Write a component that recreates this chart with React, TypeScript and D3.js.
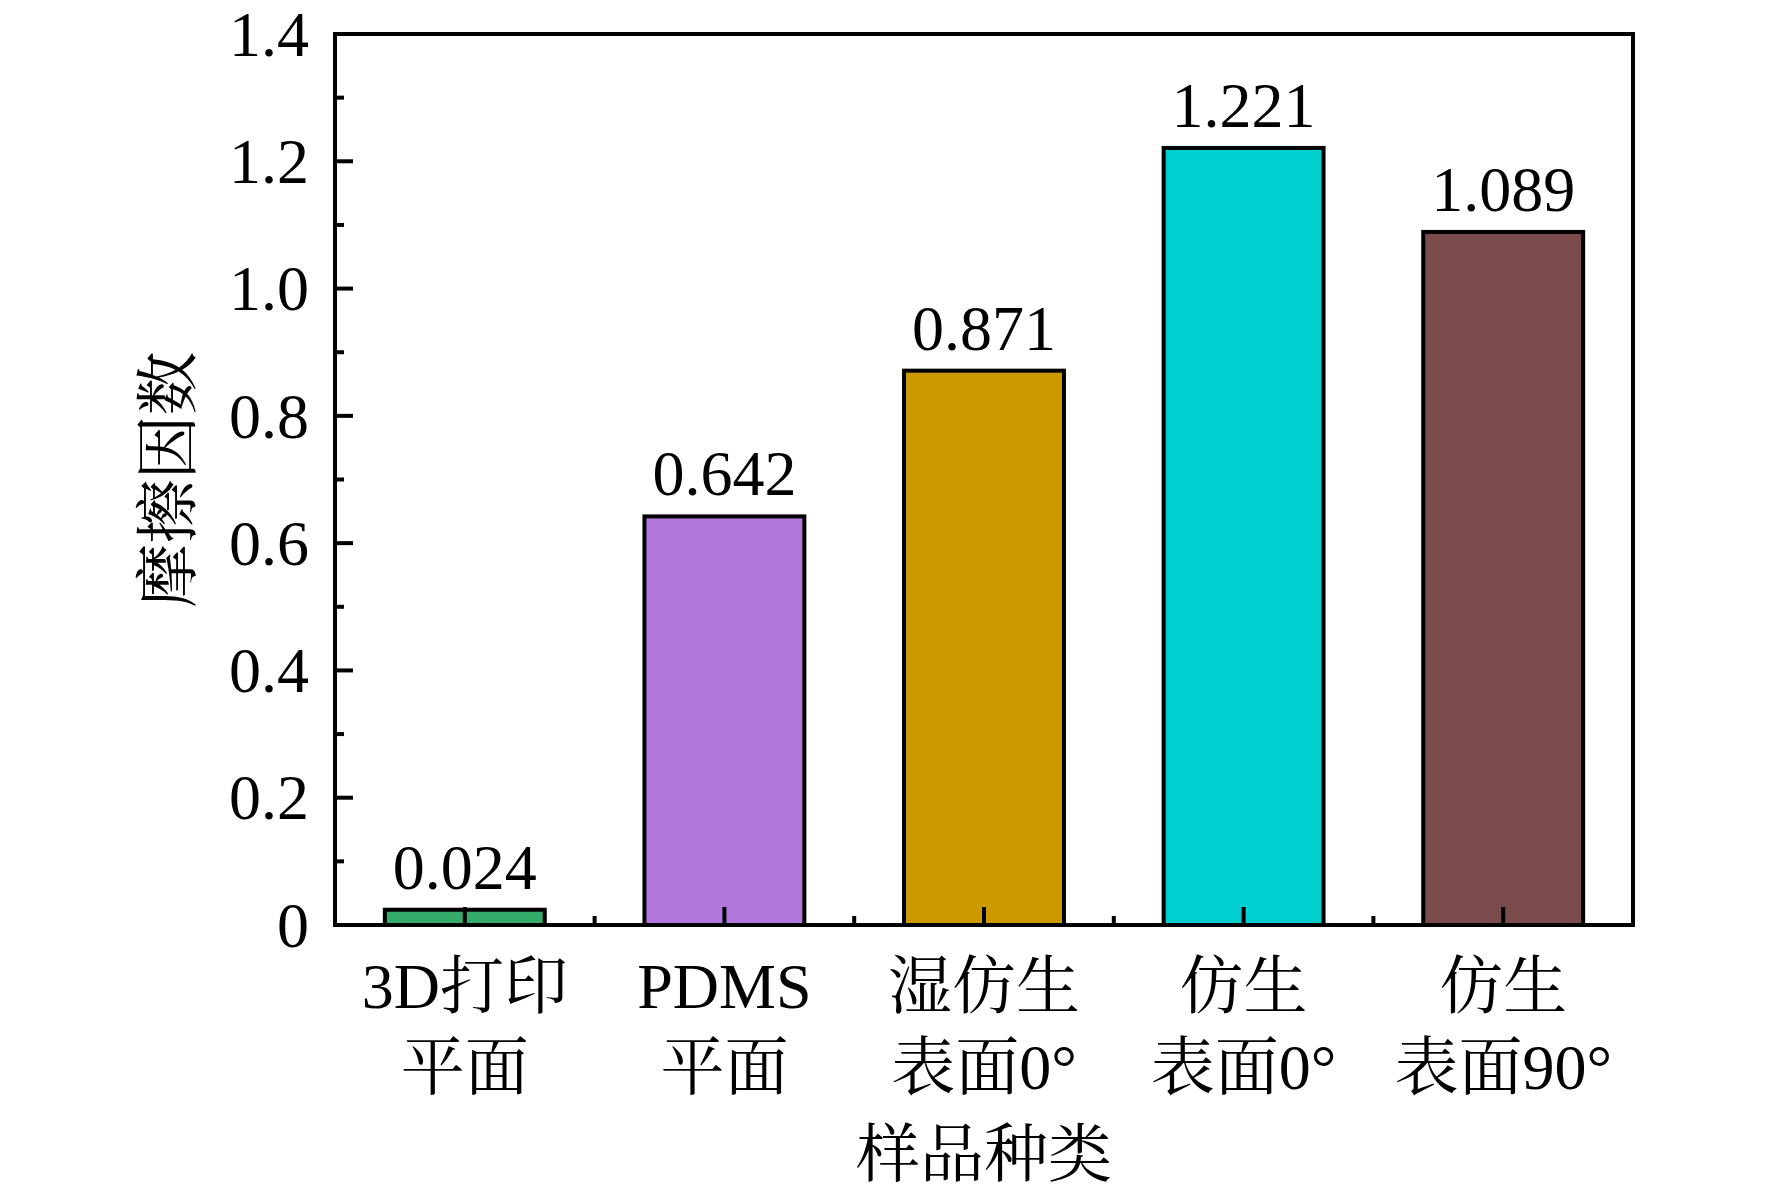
import { useEffect, useRef } from "react";
import * as d3 from "d3";

// sample categories (two lines each) and measured friction coefficients
const categories = ["3D打印\n平面", "PDMS\n平面", "湿仿生\n表面0°", "仿生\n表面0°", "仿生\n表面90°"];
const frictionValues = [0.024, 0.642, 0.871, 1.221, 1.089];
const valueLabels = ["0.024", "0.642", "0.871", "1.221", "1.089"];
const barColors = ["#34ab69", "#b376dc", "#cc9a00", "#00cfcf", "#7a4b4b"];
const yTicks = [0, 0.2, 0.4, 0.6, 0.8, 1.0, 1.2, 1.4];
const yTickLabels = ["0", "0.2", "0.4", "0.6", "0.8", "1.0", "1.2", "1.4"];
const yMinorTicks = [0.1, 0.3, 0.5, 0.7, 0.9, 1.1, 1.3];

const xTitle = "样品种类";
const yTitle = "摩擦因数";

const FONT = '"Liberation Serif", "Times New Roman", "Noto Serif CJK SC", "Noto Sans CJK SC", serif';

export default function App() {
  const svgRef = useRef<SVGSVGElement>(null);
  const width = 1772;
  const height = 1195;

  useEffect(() => {
    if (!svgRef.current) return;
    const svg = d3.select(svgRef.current);
    svg.selectAll("*").remove();

    const margin = { top: 34, right: 139, bottom: 270, left: 335 };
    const innerWidth = width - margin.left - margin.right;
    const innerHeight = height - margin.top - margin.bottom;

    const g = svg
      .append("g")
      .attr("transform", `translate(${margin.left},${margin.top})`);

    const x = d3
      .scaleBand()
      .domain(categories)
      .range([0, innerWidth])
      .paddingInner(0.384)
      .paddingOuter(0.192);

    const y = d3.scaleLinear().domain([0, 1.4]).range([innerHeight, 0]);

    const step = x.step();

    // bars
    g.selectAll(".bar")
      .data(frictionValues)
      .enter()
      .append("rect")
      .attr("class", "bar")
      .attr("x", (_, i) => x(categories[i]) ?? 0)
      .attr("width", x.bandwidth())
      .attr("y", (d) => y(d))
      .attr("height", (d) => innerHeight - y(d))
      .attr("fill", (_, i) => barColors[i])
      .attr("stroke", "#000")
      .attr("stroke-width", 4);

    // value labels
    g.selectAll(".val")
      .data(frictionValues)
      .enter()
      .append("text")
      .attr("x", (_, i) => (x(categories[i]) ?? 0) + x.bandwidth() / 2)
      .attr("y", (d) => y(d) - 21)
      .attr("text-anchor", "middle")
      .attr("font-family", FONT)
      .attr("font-size", 64)
      .attr("fill", "#000")
      .text((_, i) => valueLabels[i]);

    // y axis ticks (inward)
    g.selectAll(".ymaj")
      .data(yTicks)
      .enter()
      .append("line")
      .attr("x1", 0)
      .attr("x2", 18)
      .attr("y1", (d) => y(d))
      .attr("y2", (d) => y(d))
      .attr("stroke", "#000")
      .attr("stroke-width", 4);

    g.selectAll(".ymin")
      .data(yMinorTicks)
      .enter()
      .append("line")
      .attr("x1", 0)
      .attr("x2", 9)
      .attr("y1", (d) => y(d))
      .attr("y2", (d) => y(d))
      .attr("stroke", "#000")
      .attr("stroke-width", 4);

    g.selectAll(".ylab")
      .data(yTicks)
      .enter()
      .append("text")
      .attr("x", -26)
      .attr("y", (d) => y(d))
      .attr("dy", "0.34em")
      .attr("text-anchor", "end")
      .attr("font-family", FONT)
      .attr("font-size", 64)
      .attr("fill", "#000")
      .text((_, i) => yTickLabels[i]);

    // x axis ticks: major at centers, minor at band boundaries
    g.selectAll(".xmaj")
      .data(categories)
      .enter()
      .append("line")
      .attr("x1", (d) => (x(d) ?? 0) + x.bandwidth() / 2)
      .attr("x2", (d) => (x(d) ?? 0) + x.bandwidth() / 2)
      .attr("y1", innerHeight)
      .attr("y2", innerHeight - 18)
      .attr("stroke", "#000")
      .attr("stroke-width", 4);

    g.selectAll(".xmin")
      .data(categories.slice(1))
      .enter()
      .append("line")
      .attr("x1", (d) => (x(d) ?? 0) + x.bandwidth() / 2 - step / 2)
      .attr("x2", (d) => (x(d) ?? 0) + x.bandwidth() / 2 - step / 2)
      .attr("y1", innerHeight)
      .attr("y2", innerHeight - 9)
      .attr("stroke", "#000")
      .attr("stroke-width", 4);

    // category labels, two lines each
    const xl = g
      .selectAll(".xlab")
      .data(categories)
      .enter()
      .append("text")
      .attr("text-anchor", "middle")
      .attr("font-family", FONT)
      .attr("font-size", 64)
      .attr("fill", "#000");
    xl.each(function (d) {
      const cx = (x(d) ?? 0) + x.bandwidth() / 2;
      const lines = d.split("\n");
      lines.forEach((line, li) => {
        d3.select(this)
          .append("tspan")
          .attr("x", cx)
          .attr("y", innerHeight + 83 + li * 81)
          .text(line);
      });
    });

    // frame
    g.append("rect")
      .attr("x", 0)
      .attr("y", 0)
      .attr("width", innerWidth)
      .attr("height", innerHeight)
      .attr("fill", "none")
      .attr("stroke", "#000")
      .attr("stroke-width", 4);

    // axis titles
    svg
      .append("text")
      .attr("x", margin.left + innerWidth / 2)
      .attr("y", 1176)
      .attr("text-anchor", "middle")
      .attr("font-family", FONT)
      .attr("font-size", 64)
      .attr("fill", "#000")
      .text(xTitle);

    svg
      .append("text")
      .attr("transform", `translate(190,${margin.top + innerHeight / 2 + 0}) rotate(-90)`)
      .attr("text-anchor", "middle")
      .attr("font-family", FONT)
      .attr("font-size", 64)
      .attr("fill", "#000")
      .text(yTitle);

    return () => {
      svg.selectAll("*").remove();
    };
  }, []);

  return (
    <svg
      ref={svgRef}
      width={width}
      height={height}
      style={{ position: "absolute", left: 0, top: 0, background: "#fff" }}
    />
  );
}
